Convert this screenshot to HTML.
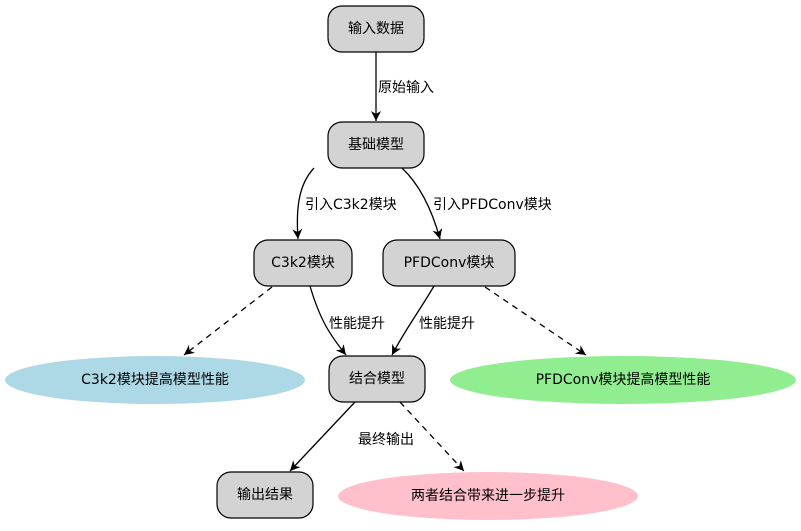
<!DOCTYPE html>
<html><head><meta charset="utf-8"><style>
body{margin:0;background:#fff}
svg text{font-family:"DejaVu Sans","Noto Sans CJK SC",sans-serif;font-size:14px}
</style></head><body>
<svg width="801" height="526" viewBox="0 0 801 526" xmlns="http://www.w3.org/2000/svg">
<defs>
<marker id="a" viewBox="0 0 10 10" refX="10" refY="5" markerWidth="10" markerHeight="10" markerUnits="userSpaceOnUse" orient="auto">
<path d="M0,0 L10,5 L0,10 L3,5 Z" fill="#000"/>
</marker>
</defs>
<g fill="none" stroke="#000" stroke-width="1.3">
<path d="M376,52 L376,121" marker-end="url(#a)"/>
<path d="M314,168 C298,185 296,210 298,239" marker-end="url(#a)"/>
<path d="M402,168 C420,185 432,210 440,239" marker-end="url(#a)"/>
<path d="M310,286 C320,320 330,335 346,355" marker-end="url(#a)"/>
<path d="M434,286 C420,310 405,330 392,355" marker-end="url(#a)"/>
<path d="M355,402 L290,471" marker-end="url(#a)"/>
<path d="M272,287 L184,355" stroke-dasharray="6,5" marker-end="url(#a)"/>
<path d="M485,287 L586,355" stroke-dasharray="6,5" marker-end="url(#a)"/>
<path d="M400,402 L464,471" stroke-dasharray="6,5" marker-end="url(#a)"/>
</g>
<g stroke="#000" stroke-width="1.2" fill="#d3d3d3">
<rect x="328" y="6" width="96" height="46" rx="14"/>
<rect x="328" y="122" width="96" height="46" rx="14"/>
<rect x="254" y="240" width="98" height="46" rx="14"/>
<rect x="383" y="240" width="132" height="46" rx="14"/>
<rect x="329" y="356" width="96" height="46" rx="14"/>
<rect x="217" y="472" width="96" height="46" rx="14"/>
</g>
<ellipse cx="155" cy="380" rx="150" ry="24" fill="#add8e6"/>
<ellipse cx="623" cy="380" rx="173" ry="24" fill="#90ee90"/>
<ellipse cx="488" cy="496" rx="150" ry="24" fill="#ffc0cb"/>
<g text-anchor="middle" dominant-baseline="central">
<text x="376" y="29">输入数据</text>
<text x="376" y="145">基础模型</text>
<text x="303" y="263">C3k2模块</text>
<text x="449" y="263">PFDConv模块</text>
<text x="377" y="379">结合模型</text>
<text x="265" y="495">输出结果</text>
<text x="155" y="380">C3k2模块提高模型性能</text>
<text x="623" y="380">PFDConv模块提高模型性能</text>
<text x="488" y="496">两者结合带来进一步提升</text>
</g>
<g dominant-baseline="central">
<text x="378" y="88">原始输入</text>
<text x="305" y="205">引入C3k2模块</text>
<text x="433" y="205">引入PFDConv模块</text>
<text x="329" y="324">性能提升</text>
<text x="419" y="324">性能提升</text>
<text x="358" y="440">最终输出</text>
</g>
</svg>
</body></html>
